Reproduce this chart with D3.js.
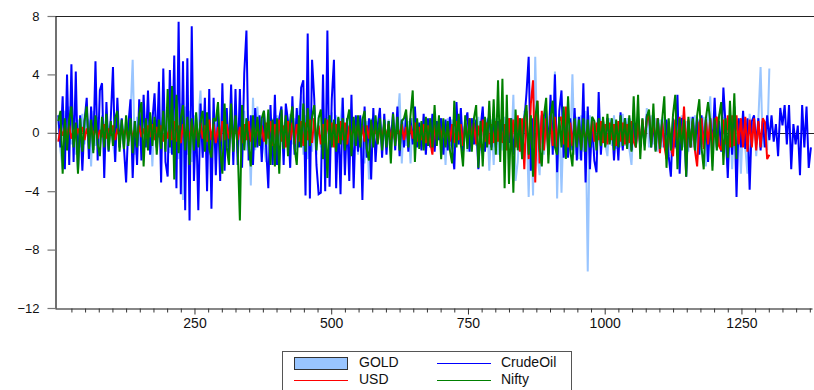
<!DOCTYPE html>
<html><head><meta charset="utf-8">
<script src="https://cdn.jsdelivr.net/npm/d3@7"></script>
<style>
body{margin:0;background:#fff;}
svg{display:block;font-family:"Liberation Sans",Arial,sans-serif;}
</style></head>
<body><svg id="c" width="814" height="390"></svg>
<script>
// observation index of the first point and spacing between stored points
const firstObs = 1, obsStep = 4;

const seriesNames = ["GOLD","CrudeOil","USD","Nifty"];
const seriesColors = ["#99c5ff","#0000ff","#ff0000","#008000"];

const crudeOil = [
1.2,-1.0,2.5,-2.5,4.0,-2.2,4.7,-2.0,4.2,-2.6,
1.2,-2.6,0.8,2.4,-1.8,1.8,-1.2,4.9,-1.9,2.9,
3.4,-3.1,2.1,-1.3,1.0,4.5,-2.0,2.4,-1.0,1.0,
-1.0,-3.4,0.5,2.3,-3.1,0.8,-2.2,2.3,-1.9,2.6,
-1.0,2.9,-1.5,0.8,2.7,-1.0,3.5,-3.4,4.4,-2.0,
-3.0,4.3,-1.5,5.3,-3.8,7.6,-4.2,4.9,-5.3,5.1,
-6.0,7.3,-3.3,1.0,-5.3,2.0,-1.7,2.4,-4.0,3.0,
-5.2,2.4,-2.9,1.5,-3.3,3.4,-2.6,1.7,-1.5,3.3,
-2.2,3.0,-2.2,3.0,-2.4,4.1,7.0,-1.9,1.2,-2.2,
1.7,-1.0,1.2,-2.0,1.5,-1.0,-3.8,1.9,-2.2,2.6,
-2.2,1.0,1.8,-2.2,2.0,0.8,-2.4,2.5,-1.5,1.7,
-1.0,3.1,3.6,-4.3,6.8,-4.5,5.0,2.3,-2.2,-4.2,
-4.1,4.0,-4.0,7.0,-3.7,2.3,5.0,-3.8,1.0,-4.2,
2.4,-2.9,1.0,-3.3,2.6,-3.8,1.2,-1.3,1.2,-4.6,
1.8,-1.7,1.0,-3.2,1.7,-2.0,0.5,1.7,-1.7,1.3,
-1.5,0.8,-0.6,1.4,-1.2,1.8,-1.6,0.9,-1.0,1.2,
-1.3,1.0,-0.8,1.8,-1.0,0.7,-1.2,1.3,-1.5,1.0,
-1.0,1.3,-1.3,0.8,-0.5,1.0,-1.5,0.9,-1.2,1.1,
-1.0,-2.5,2.1,-0.8,1.7,-1.3,0.7,1.4,-1.3,1.0,
-0.8,0.9,-2.5,0.3,1.8,-1.3,0.6,1.2,-1.0,0.9,
-1.0,0.8,-0.6,1.0,-1.2,0.9,-0.7,1.0,-1.5,0.6,
-1.0,1.0,-1.7,0.8,2.7,5.2,-2.6,1.0,-1.3,1.5,
-1.3,1.2,-0.8,1.5,-1.1,2.6,-1.5,4.0,-2.7,1.5,
2.9,-1.7,1.0,-1.7,1.0,-1.2,1.7,-1.9,1.1,-1.9,
3.4,-3.4,1.8,-2.5,0.8,-1.9,-2.7,2.8,-1.5,0.8,
-0.9,1.0,-0.6,0.9,-1.9,0.5,-1.9,1.4,-1.2,1.0,
-0.8,1.0,-1.2,0.7,-0.9,1.0,-1.0,0.6,-0.8,1.2,
1.2,-1.0,0.8,-1.2,1.0,-0.8,0.7,-1.0,0.9,-1.6,
-3.0,1.0,-1.0,2.6,-2.8,1.0,0.8,-3.0,0.8,-1.0,
1.1,-0.8,1.0,-1.5,1.2,-0.8,0.9,-2.0,1.0,-1.0,
2.4,-1.0,0.8,-1.3,3.1,0.5,-3.1,1.0,-1.5,1.8,
-4.4,1.0,-1.0,1.5,-1.1,1.0,-3.9,0.8,1.2,-0.8,
1.0,-1.2,0.8,-1.0,1.2,-0.5,1.2,-0.6,0.6,-1.6,
1.7,0.5,1.9,-0.8,1.9,-2.5,0.6,-0.8,0.5,-2.9,
1.9,-1.0,1.8,-2.4,-1.0];

const gold = [
0.8,-1.2,-2.5,1.5,-1.0,1.8,-0.8,1.2,-1.5,0.9,
-1.0,1.3,-0.8,1.0,0.8,-2.3,1.5,-0.9,1.1,-1.0,
1.2,-0.9,1.4,-1.1,0.8,-0.7,-2.0,1.2,-1.0,0.9,
-1.3,1.0,-0.8,1.2,5.0,-1.5,1.1,-0.9,1.3,-1.2,
1.0,-0.9,1.2,-2.3,1.4,-1.0,0.8,-1.3,1.5,-1.1,
1.2,-1.4,1.6,-1.2,1.0,-1.8,2.0,-4.6,1.8,-1.5,
1.5,-2.0,1.2,-1.6,0.9,2.9,-1.4,1.3,-1.8,1.1,
-1.2,1.5,-1.0,1.2,-1.5,1.8,-1.1,0.9,-1.3,1.4,
-1.0,1.6,-1.4,1.2,-1.7,1.5,-1.2,0.8,-3.6,2.4,
-1.2,1.8,-0.9,1.1,-1.0,-2.0,1.3,-1.1,1.0,-1.4,
1.2,-1.0,1.5,-1.3,0.9,-1.1,1.3,-0.8,1.0,-1.2,
1.4,2.5,-1.5,1.2,-1.8,1.6,-1.3,1.0,-1.5,1.2,
-1.0,1.3,-1.6,1.1,-1.2,1.4,-0.9,1.2,-1.4,0.8,
2.4,-1.1,1.0,-1.3,1.2,-0.8,0.9,-1.5,1.1,-1.0,
-2.1,0.8,-3.2,1.0,-0.9,1.1,-0.7,0.9,-1.0,0.8,
-0.8,0.9,-1.0,1.1,-0.7,0.8,2.7,-2.1,1.0,-0.9,
0.8,-2.1,1.0,-0.7,0.9,-1.0,0.7,-0.8,1.0,-0.9,
0.8,-1.0,0.9,-0.8,1.0,-0.7,0.8,-2.2,1.0,-0.9,
0.9,-1.1,1.2,-0.8,1.0,-0.9,1.1,-1.3,0.9,-1.0,
1.0,-0.9,1.1,-1.2,0.8,-1.0,1.0,-2.6,0.9,-2.2,
1.0,-1.5,0.8,-1.2,1.1,-0.9,1.0,-1.3,2.6,-3.3,
-2.0,1.0,-1.2,1.5,1.0,-4.4,1.2,-4.3,5.2,-1.5,
-2.9,1.2,-1.5,1.0,-1.3,1.5,-1.0,4.2,-4.5,1.3,
-4.1,1.0,-1.4,2.3,-1.2,4.0,-1.5,1.1,-1.8,1.2,
-1.3,1.5,-9.5,1.2,-1.0,0.8,-1.5,1.3,-1.0,0.9,
-0.8,-1.6,1.0,-0.9,1.2,-1.1,0.8,-1.0,1.3,-0.9,
1.0,-1.1,-2.2,0.9,-1.0,1.2,-0.8,1.0,-0.9,1.7,
-1.0,1.2,-0.8,1.0,-1.3,0.9,-1.0,1.1,-1.2,0.8,
-1.4,1.0,-1.1,1.3,-0.9,1.2,-1.0,0.8,-1.3,1.1,
-1.0,1.2,-1.8,0.9,-1.0,1.1,-2.3,1.0,2.5,-2.3,
1.0,-1.2,1.3,-0.9,1.1,-1.0,-2.4,1.2,-2.5,1.0,
-1.1,1.0,-2.8,0.9,-1.0,-2.8,1.3,-0.9,1.0,-1.6,
1.0,4.5,-1.0,0.8,-1.2,4.4];

const usd = [
-0.6,0.3,-0.2,0.4,-0.3,0.5,-0.4,0.2,-0.3,0.3,
-0.2,0.4,-0.5,0.3,-0.3,0.5,-0.2,0.3,-0.4,0.2,
-0.3,0.6,-0.4,0.3,-0.2,0.5,-0.5,0.3,-0.3,0.4,
-0.2,0.3,-0.6,0.4,-0.3,0.2,-0.4,0.5,-0.3,0.3,
-0.4,0.5,-0.3,0.6,-0.5,0.4,-0.3,0.5,-0.6,0.3,
-0.4,0.6,-0.5,0.8,-0.6,0.5,-0.7,0.6,-0.4,0.5,
-0.6,0.8,-0.5,0.6,-0.8,0.7,-0.4,0.5,-0.6,0.9,
-0.5,0.6,-0.7,0.4,-0.6,0.8,-0.5,0.6,-0.4,0.5,
-0.6,0.7,-0.5,0.4,-0.7,0.6,-0.5,0.8,-0.6,0.4,
-0.5,0.6,-0.8,0.5,-0.6,0.7,-0.4,0.8,-0.9,0.6,
-0.7,0.9,-0.6,0.5,-1.0,0.8,-0.5,0.7,-0.8,0.6,
-0.6,0.8,-0.9,0.7,-0.5,0.9,-0.7,1.0,-0.6,0.5,
-0.8,0.6,-0.7,0.9,-0.5,0.7,-1.0,0.6,-0.7,0.8,
-0.5,0.7,-0.8,0.5,-0.6,0.8,-0.4,0.6,-0.7,0.5,
-0.6,0.5,-0.4,0.7,-0.5,0.6,-0.7,0.4,-0.5,0.6,
-0.4,0.6,-0.5,0.4,-0.6,0.5,-0.3,0.6,-0.5,0.4,
-0.6,0.5,-0.4,0.7,-0.6,0.4,-0.5,0.6,-0.7,0.5,
-0.6,-1.5,0.6,-0.5,0.7,-0.4,0.6,-0.8,0.5,-0.6,
0.6,-0.7,0.8,-0.5,0.6,-0.9,0.7,-0.6,1.0,-0.5,
0.7,-0.8,0.5,-1.0,0.9,-0.6,0.7,-0.8,0.6,-0.7,
0.8,-0.6,0.9,-0.7,0.6,-1.2,1.0,-0.8,0.9,-1.0,
1.2,-1.3,1.0,-2.5,1.5,-1.8,2.0,3.6,-3.4,2.2,
-2.1,1.5,-1.2,1.0,-1.5,1.2,-0.9,1.1,-1.0,0.8,
1.1,-0.8,1.8,-1.0,0.7,-0.9,0.8,-0.6,0.5,-1.0,
0.6,-0.7,0.5,-0.8,0.9,-0.6,0.7,-0.5,0.8,-0.7,
0.6,-0.8,0.7,-0.5,0.6,-0.9,0.8,-0.6,0.7,-0.8,
0.6,-0.7,0.8,-0.6,-1.0,0.7,-0.8,0.9,-0.6,0.8,
1.3,-0.7,0.9,-0.8,1.0,-1.4,0.8,-0.9,-1.8,0.7,
-1.0,-1.6,0.9,-1.0,1.1,-0.8,1.8,-1.1,0.9,-1.0,
0.8,-1.2,-2.3,0.7,1.0,-1.1,0.9,-0.8,1.0,-1.0,
0.8,1.1,-0.9,-1.2,0.9,-0.8,1.2,-1.0,1.2,-0.9,
1.2,-0.8,1.0,-1.0,1.1,-1.3,0.9,-1.0,1.0,-1.2,
0.8,-1.0,1.0,0.7,-1.8,-1.5];

const nifty = [
0.8,1.5,-2.8,1.0,-1.2,0.9,1.8,-1.0,0.7,-2.8,
1.0,-1.3,0.8,1.8,-1.1,0.9,-1.4,1.2,-0.8,-1.6,
1.1,-1.0,1.3,-1.2,0.8,-0.9,1.0,1.5,-1.3,0.9,
-1.1,1.2,-0.9,1.0,-1.4,0.8,-1.0,1.3,2.1,-2.3,
1.0,-1.2,1.4,-0.9,1.1,-1.5,0.9,-1.1,1.5,-1.3,
3.0,-1.0,3.2,-3.2,2.6,-1.4,1.0,1.9,-1.2,1.1,
-2.2,1.0,-1.2,1.4,-1.0,0.8,1.5,-1.3,1.4,-1.1,
-1.7,1.0,0.8,2.1,-1.2,-2.8,2.0,-1.0,-2.2,2.0,
-1.3,1.2,-1.0,-6.0,1.9,-1.2,1.0,-0.8,-2.3,1.2,
-1.0,1.1,-0.9,1.0,1.5,-0.8,1.6,-2.2,0.9,-2.3,
1.0,-2.8,1.6,-1.1,1.2,-1.6,0.8,1.8,-1.0,-2.2,
1.2,-1.0,2.0,-1.3,1.7,-0.9,1.1,1.9,-1.2,1.0,
1.6,-1.8,1.0,-3.1,1.2,-1.0,0.9,-1.3,1.1,-0.8,
1.0,-1.2,0.8,1.6,-1.6,1.1,-0.9,1.2,-1.0,0.9,
1.5,-1.1,-1.9,0.9,-1.0,1.2,-0.8,1.0,-1.2,0.9,
-1.0,0.8,-2.1,1.3,-0.9,1.1,-1.2,0.8,1.0,1.6,
-1.0,1.2,2.9,-2.0,1.0,-1.1,0.8,-1.2,1.1,-0.9,
1.0,-1.0,1.9,-0.9,1.2,-1.8,1.0,-1.0,0.8,-1.2,
-2.1,2.2,-1.0,1.3,-0.8,-2.3,1.2,-1.1,1.0,-1.3,
1.0,1.9,-2.4,0.8,-2.3,1.1,-1.0,2.2,-1.2,2.3,
-1.5,3.6,-2.0,3.7,-3.8,2.6,-3.5,1.0,-4.1,1.6,
-1.2,1.0,-1.8,1.0,1.9,-1.5,1.2,-3.0,1.0,2.2,
-1.0,-2.3,1.2,2.4,-2.1,1.0,2.2,-1.0,-1.5,1.1,
-1.0,1.8,-1.8,2.5,-1.2,-2.3,1.0,-1.0,0.9,-1.2,
1.0,-1.3,0.9,-1.0,1.1,0.8,-1.2,1.0,-0.9,1.1,
-1.0,1.3,-0.8,1.0,-1.2,0.9,-1.0,1.2,-0.9,1.0,
-1.1,1.2,-1.3,2.5,-1.0,2.6,-1.8,1.0,-1.2,1.1,
1.6,-1.0,2.0,-1.3,1.0,-1.1,0.9,2.5,-2.4,1.0,
-1.2,1.3,2.6,-2.5,1.0,-1.2,0.9,-3.0,1.1,-1.0,
1.0,-1.2,1.2,2.3,-1.0,-2.5,1.0,2.1,0.8,-2.6,
1.0,-1.2,1.1,2.1,-2.2,1.0,-1.7,2.2,-1.0,2.7,
-1.8];

const yTicks = [8,4,0,-4,-8,-12];
const xTicks = [250,500,750,1000,1250];

(function(){
const svg = d3.select("#c");
const pL = 55, pR = 812, pT = 16, pB = 308;
const x = d3.scaleLinear().domain([-5, 1379]).range([pL, pR]);
const y = d3.scaleLinear().domain([-12, 8]).range([pB, pT]);

svg.append("defs").append("clipPath").attr("id","clip")
  .append("rect").attr("x",pL).attr("y",pT).attr("width",pR-pL+2).attr("height",pB-pT);

// top border
svg.append("line").attr("x1",pL).attr("x2",814).attr("y1",pT+0.5).attr("y2",pT+0.5)
  .attr("stroke","#222").attr("stroke-width",1.2);
// zero line
const y0 = Math.round(y(0))+0.5;
svg.append("line").attr("x1",pL).attr("x2",814).attr("y1",y0).attr("y2",y0)
  .attr("stroke","#222").attr("stroke-width",1);

const g = svg.append("g").attr("clip-path","url(#clip)");
const line = d3.line().x((d,i)=>x(firstObs + obsStep*i)).y(d=>y(d));
[gold, crudeOil, usd, nifty].forEach((s,k)=>{
  g.append("path").datum(s).attr("d",line).attr("fill","none")
    .attr("stroke",seriesColors[k]).attr("stroke-width",2).attr("stroke-linejoin","miter").attr("stroke-miterlimit",2);
});

// Y axis
const ya = svg.append("g").attr("transform",`translate(${pL+0.5},0)`)
  .call(d3.axisLeft(y).tickValues(yTicks).tickSize(8).tickSizeOuter(0).tickPadding(8).tickFormat(d3.format("d")));
ya.select(".domain").attr("stroke","#111").attr("stroke-width",1.2);
ya.selectAll(".tick line").attr("stroke","#777").attr("stroke-width",1.2);
ya.selectAll("text").attr("font-size",13).attr("fill","#111").attr("font-family","Liberation Sans, Arial, sans-serif");

// X axis: minor ticks
const minor = d3.range(25, 1379, 25).filter(v=>v%250!==0);
const xm = svg.append("g").attr("transform",`translate(0,${pB+0.5})`)
  .call(d3.axisBottom(x).tickValues(minor).tickSize(4).tickSizeOuter(0).tickFormat(""));
xm.select(".domain").attr("stroke","#111").attr("stroke-width",1.2);
xm.selectAll(".tick line").attr("stroke","#333");
const xa = svg.append("g").attr("transform",`translate(0,${pB+0.5})`)
  .call(d3.axisBottom(x).tickValues(xTicks).tickSize(6).tickSizeOuter(0).tickPadding(4).tickFormat(d3.format("d")));
xa.select(".domain").remove();
xa.selectAll(".tick line").attr("stroke","#333");
xa.selectAll("text").attr("font-size",14).attr("fill","#111").attr("font-family","Liberation Sans, Arial, sans-serif");

// Legend
const lg = svg.append("g");
lg.append("rect").attr("x",282.5).attr("y",351.5).attr("width",289).attr("height",50)
  .attr("fill","#fff").attr("stroke","#555").attr("stroke-width",1);
const legendPos = [
  {x:294, y:363.5, tx:359, ty:367},
  {x:437, y:363.5, tx:501, ty:367},
  {x:294, y:380.5, tx:359, ty:384},
  {x:437, y:380.5, tx:501, ty:384}
];
seriesNames.forEach((n,k)=>{
  const p = legendPos[k];
  if(k===0){
    lg.append("rect").attr("x",p.x+0.5).attr("y",357.5).attr("width",53).attr("height",12)
      .attr("fill",seriesColors[0]).attr("stroke","#333").attr("stroke-width",1);
  } else {
    lg.append("line").attr("x1",p.x).attr("x2",p.x+54).attr("y1",p.y).attr("y2",p.y)
      .attr("stroke",seriesColors[k]).attr("stroke-width",1.2);
  }
  lg.append("text").attr("x",p.tx).attr("y",p.ty).attr("font-size",14).attr("fill","#111").text(n);
});
})();
</script></body></html>
